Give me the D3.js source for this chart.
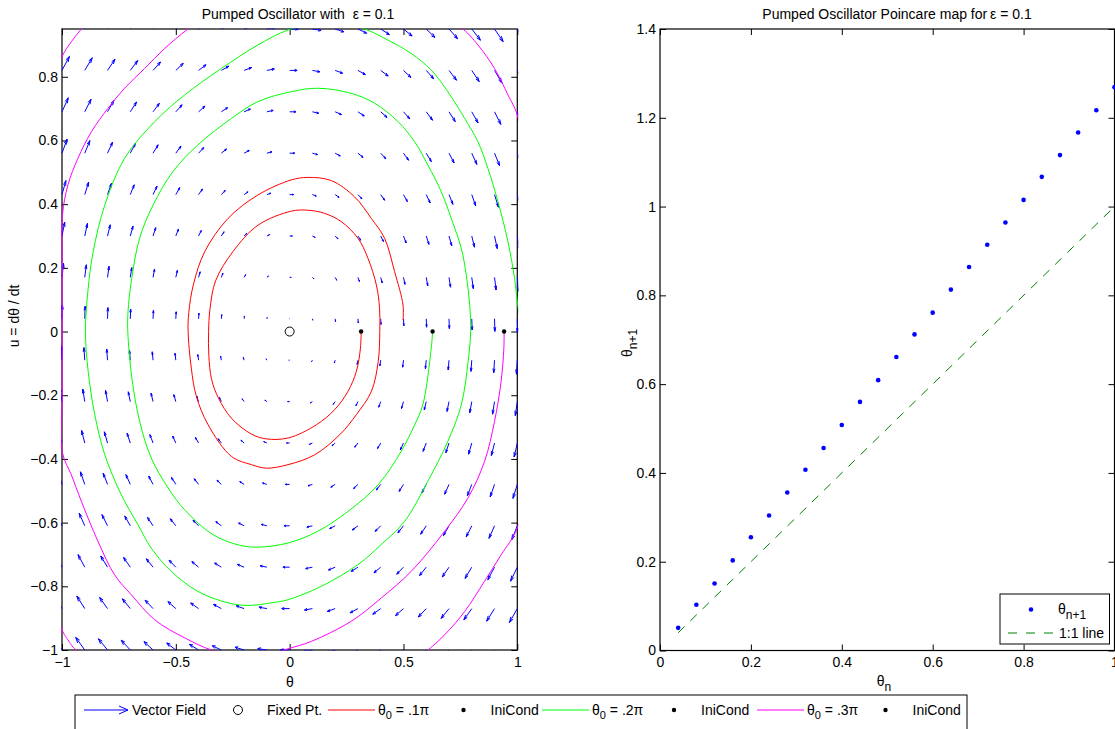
<!DOCTYPE html>
<html><head><meta charset="utf-8">
<script src="https://cdn.jsdelivr.net/npm/d3@7"></script>
<style>
html,body{margin:0;padding:0;background:#fff;}
svg{display:block;}
text{font-family:'Liberation Sans',Arial,Helvetica,sans-serif;white-space:pre;}
</style></head>
<body><svg id="c" width="1115" height="729"></svg>
<script>
// ---------------- DATA ----------------
const epsilon = "0.1";
// vector field grid
const quiverTheta = [-1,-0.9,-0.8,-0.7,-0.6,-0.5,-0.4,-0.3,-0.2,-0.1,0,0.1,0.2,0.3,0.4,0.5,0.6,0.7,0.8,0.9,1];
const quiverU = [-1,-0.87,-0.74,-0.61,-0.48,-0.35,-0.22,-0.09,0.04,0.17,0.30,0.43,0.56,0.69,0.82,0.95];
// horizontal component of each row's arrows, vertical component of each column's arrows
const arrowDTheta = [-1,-0.87,-0.74,-0.61,-0.48,-0.35,-0.22,-0.09,0.04,0.17,0.30,0.43,0.56,0.69,0.82,0.95];
const arrowDU = [1.1,0.99,0.88,0.77,0.66,0.55,0.44,0.33,0.22,0.11,0,-0.11,-0.22,-0.33,-0.44,-0.55,-0.66,-0.77,-0.88,-0.99,-1.1];
const arrowScale = 0.04;

const fixedPoint = [0, 0];
const iniConds = [[0.314,0],[0.628,0],[0.942,0]];

const redTraj = [[0.314,0],[0.311,-0.052],[0.293,-0.125],[0.256,-0.188],[0.198,-0.245],[0.117,-0.293],[-0.005,-0.334],[-0.103,-0.337],[-0.168,-0.322],[-0.256,-0.272],[-0.312,-0.210],[-0.343,-0.150],[-0.355,-0.075],[-0.356,0.0],[-0.350,0.070],[-0.325,0.160],[-0.249,0.251],[-0.139,0.334],[0.007,0.378],[0.08,0.381],[0.154,0.371],[0.227,0.345],[0.3,0.293],[0.344,0.23],[0.381,0.146],[0.395,0.073],[0.396,0.0],[0.389,-0.094],[0.359,-0.188],[0.293,-0.261],[0.22,-0.324],[0.11,-0.387],[-0.007,-0.418],[-0.103,-0.429],[-0.168,-0.418],[-0.256,-0.392],[-0.358,-0.293],[-0.41,-0.203],[-0.432,-0.115],[-0.446,0.0],[-0.443,0.060],[-0.422,0.150],[-0.373,0.251],[-0.271,0.355],[-0.139,0.429],[0.007,0.476],[0.08,0.484],[0.183,0.474],[0.285,0.423],[0.359,0.355],[0.417,0.293],[0.461,0.188],[0.498,0.083],[0.498,0.036]];

const greenTraj = [[0.628,0],[0.622,-0.052],[0.585,-0.23],[0.549,-0.293],[0.49,-0.376],[0.389,-0.481],[0.256,-0.565],[0.124,-0.627],[-0.007,-0.664],[-0.139,-0.677],[-0.22,-0.671],[-0.336,-0.638],[-0.461,-0.56],[-0.534,-0.491],[-0.608,-0.397],[-0.659,-0.282],[-0.693,-0.146],[-0.711,0.0],[-0.71,0.062],[-0.696,0.156],[-0.659,0.293],[-0.6,0.397],[-0.513,0.502],[-0.403,0.586],[-0.256,0.669],[-0.139,0.722],[0.007,0.753],[0.124,0.764],[0.27,0.748],[0.373,0.717],[0.476,0.659],[0.549,0.596],[0.607,0.523],[0.666,0.439],[0.71,0.355],[0.754,0.261],[0.776,0.177],[0.791,0.083],[0.795,0.0],[0.784,-0.094],[0.754,-0.23],[0.695,-0.345],[0.607,-0.47],[0.505,-0.596],[0.402,-0.669],[0.3,-0.732],[0.139,-0.8],[-0.007,-0.842],[-0.081,-0.852],[-0.183,-0.86],[-0.271,-0.852],[-0.403,-0.816],[-0.52,-0.753],[-0.608,-0.68],[-0.666,-0.607],[-0.74,-0.512],[-0.812,-0.387],[-0.856,-0.261],[-0.885,-0.125],[-0.897,0.0],[-0.885,0.136],[-0.863,0.251],[-0.812,0.397],[-0.725,0.544],[-0.593,0.659],[-0.461,0.743],[-0.3,0.826],[-0.139,0.9],[-0.007,0.947],[0.16,0.975],[0.329,0.95],[0.432,0.915],[0.534,0.873],[0.622,0.821],[0.695,0.753],[0.769,0.669],[0.827,0.596],[0.871,0.512],[0.915,0.408],[0.959,0.282],[0.988,0.167],[1.0,0.094],[1.02,0.0]];

const magentaTraj = [[0.942,0],[0.941,-0.052],[0.929,-0.156],[0.9,-0.282],[0.856,-0.408],[0.783,-0.523],[0.681,-0.627],[0.534,-0.753],[0.402,-0.837],[0.27,-0.91],[0.095,-0.973],[-0.007,-0.996],[-0.17,-1.03],[-0.344,-1.0],[-0.461,-0.962],[-0.593,-0.905],[-0.696,-0.826],[-0.769,-0.764],[-0.842,-0.659],[-0.915,-0.533],[-0.959,-0.45],[-0.998,-0.381],[-0.999,-0.2],[-0.999,0.0],[-0.999,0.2],[-0.998,0.366],[-0.974,0.46],[-0.93,0.544],[-0.871,0.627],[-0.798,0.701],[-0.725,0.764],[-0.637,0.826],[-0.549,0.889],[-0.447,0.95],[-0.2,1.08],[0.15,1.15],[0.5,1.07],[0.761,0.95],[0.827,0.9],[0.9,0.826],[0.959,0.743],[1.0,0.68],[1.1,0.3],[1.12,0.0],[1.1,-0.3],[1.0,-0.617],[0.929,-0.701],[0.856,-0.784],[0.769,-0.879],[0.681,-0.952],[0.607,-1.0],[0.3,-1.15],[-0.2,-1.2],[-0.6,-1.12],[-0.937,-1.0],[-0.974,-0.968],[-1.0,-0.936],[-1.2,-0.4],[-1.25,0.0],[-1.2,0.5],[-1.0,0.863],[-0.959,0.91],[-0.915,0.95],[-0.85,1.0]];

// Poincare map
const thetaN  = [0.04,0.08,0.12,0.16,0.20,0.24,0.28,0.32,0.36,0.40,0.44,0.48,0.52,0.56,0.60,0.64,0.68,0.72,0.76,0.80,0.84,0.88,0.92,0.96,1.00];
const thetaN1 = [0.051,0.103,0.151,0.203,0.255,0.304,0.356,0.407,0.456,0.508,0.560,0.609,0.661,0.712,0.761,0.813,0.864,0.914,0.964,1.015,1.067,1.116,1.167,1.217,1.269];
const oneToOne = [0.04, 1.0];

// ticks
const leftXTicks = [-1,-0.5,0,0.5,1];
const leftYTicks = [-1,-0.8,-0.6,-0.4,-0.2,0,0.2,0.4,0.6,0.8];
const rightXTicks = [0,0.2,0.4,0.6,0.8,1];
const rightYTicks = [0,0.2,0.4,0.6,0.8,1,1.2,1.4];

// ---------------- DRAW ----------------
const svg = d3.select("#c");
const FS = 14;
const fmt = d => String(d).replace("-", "\u2212");

const xL = d3.scaleLinear().domain([-1,1]).range([62,517.3]);
const yL = d3.scaleLinear().domain([-1,0.95]).range([650,29]);
const xR = d3.scaleLinear().domain([0,1]).range([660,1114.5]);
const yR = d3.scaleLinear().domain([0,1.4]).range([650.5,29]);

function frame(x, y, xt, yt, xlab) {
  const g = svg.append("g");
  const x0 = x.range()[0], x1 = x.range()[1], y0 = y.range()[0], y1 = y.range()[1];
  const styleAxis = sel => { sel.select(".domain").remove(); sel.selectAll("line").attr("stroke","#000"); sel.selectAll("text").attr("font-size",FS).attr("fill","#000"); };
  g.append("g").attr("transform",`translate(0,${y0})`).call(d3.axisBottom(x).tickValues(xt).tickSize(-6).tickPadding(7).tickFormat(xlab ? fmt : "")).call(styleAxis);
  g.append("g").attr("transform",`translate(0,${y1})`).call(d3.axisTop(x).tickValues(xt).tickSize(-6).tickFormat("")).call(styleAxis);
  g.append("g").attr("transform",`translate(${x0},0)`).call(d3.axisLeft(y).tickValues(yt).tickSize(-6).tickPadding(4).tickFormat(fmt)).call(styleAxis);
  g.append("g").attr("transform",`translate(${x1},0)`).call(d3.axisRight(y).tickValues(yt).tickSize(-6).tickFormat("")).call(styleAxis);
  g.append("rect").attr("x",x0).attr("y",y1).attr("width",x1-x0).attr("height",y0-y1)
    .attr("fill","none").attr("stroke","#000").attr("stroke-width",1.2);
}

// clip paths
const defs = svg.append("defs");
defs.append("clipPath").attr("id","clipL").append("rect")
  .attr("x",61).attr("y",28.5).attr("width",457.3).attr("height",622);
defs.append("clipPath").attr("id","clipR").append("rect")
  .attr("x",660).attr("y",29).attr("width",455).attr("height",622);

// ---------- left plot ----------
frame(xL, yL, leftXTicks, leftYTicks, true);
const gL = svg.append("g").attr("clip-path","url(#clipL)");

// quiver
const alpha = 0.33, beta = 0.33;
let qp = "";
quiverU.forEach((uv, i) => {
  quiverTheta.forEach((th, j) => {
    const du = arrowDTheta[i]*arrowScale, dv = arrowDU[j]*arrowScale;
    const tx = th+du, ty = uv+dv;
    const h1x = tx - alpha*(du + beta*dv), h1y = ty - alpha*(dv - beta*du);
    const h2x = tx - alpha*(du - beta*dv), h2y = ty - alpha*(dv + beta*du);
    qp += `M${xL(th)},${yL(uv)}L${xL(tx)},${yL(ty)}M${xL(h1x)},${yL(h1y)}L${xL(tx)},${yL(ty)}L${xL(h2x)},${yL(h2y)}`;
  });
});
gL.append("path").attr("d",qp).attr("fill","none").attr("stroke","#0000ff").attr("stroke-width",1);

const lineL = d3.line().x(d=>xL(d[0])).y(d=>yL(d[1])).curve(d3.curveCatmullRom.alpha(0.5));
[[redTraj,"#ff0000"],[greenTraj,"#00ff00"],[magentaTraj,"#ff00ff"]].forEach(([t,c]) => {
  gL.append("path").attr("d",lineL(t)).attr("fill","none").attr("stroke",c).attr("stroke-width",1);
});
gL.append("circle").attr("cx",xL(fixedPoint[0])).attr("cy",yL(fixedPoint[1])).attr("r",4.5)
  .attr("fill","none").attr("stroke","#000").attr("stroke-width",1);
gL.selectAll("circle.ic").data(iniConds).join("circle").attr("class","ic")
  .attr("cx",d=>xL(d[0])).attr("cy",d=>yL(d[1])).attr("r",2.2).attr("fill","#000");

svg.append("text").attr("x",298).attr("y",19).attr("text-anchor","middle").attr("font-size",FS)
  .text("Pumped Oscillator with  \u03b5 = " + epsilon);
svg.append("text").attr("x",290).attr("y",687).attr("text-anchor","middle").attr("font-size",FS).text("\u03b8");
svg.append("text").attr("transform","translate(19,316) rotate(-90)").attr("text-anchor","middle")
  .attr("font-size",FS).text("u = d\u03b8 / dt");

// ---------- right plot ----------
frame(xR, yR, rightXTicks, rightYTicks, true);
const gR = svg.append("g").attr("clip-path","url(#clipR)");
gR.append("line").attr("x1",xR(oneToOne[0])).attr("y1",yR(oneToOne[0])).attr("x2",xR(oneToOne[1])).attr("y2",yR(oneToOne[1]))
  .attr("stroke","#008000").attr("stroke-width",1).attr("stroke-dasharray","9,8");
gR.selectAll("circle").data(thetaN).join("circle")
  .attr("cx",(d)=>xR(d)).attr("cy",(d,i)=>yR(thetaN1[i])).attr("r",2.3).attr("fill","#0000ff");

svg.append("text").attr("x",897).attr("y",19).attr("text-anchor","middle").attr("font-size",FS)
  .text("Pumped Oscillator Poincare map for\u2009\u03b5 = " + epsilon);
const xlR = svg.append("text").attr("x",884).attr("y",686).attr("text-anchor","middle").attr("font-size",FS);
xlR.append("tspan").text("\u03b8");
xlR.append("tspan").attr("dy",5).attr("font-size",12).text("n");
const ylR = svg.append("text").attr("transform","translate(632,343) rotate(-90)").attr("text-anchor","middle").attr("font-size",FS);
ylR.append("tspan").text("\u03b8");
ylR.append("tspan").attr("dy",5).attr("font-size",12).text("n+1");

// right legend
const lg = svg.append("g");
lg.append("rect").attr("x",1000).attr("y",594).attr("width",109.5).attr("height",50)
  .attr("fill","#fff").attr("stroke","#000").attr("stroke-width",1);
lg.append("circle").attr("cx",1031).attr("cy",609.5).attr("r",2.3).attr("fill","#0000ff");
const lt = lg.append("text").attr("x",1058).attr("y",614).attr("font-size",FS);
lt.append("tspan").text("\u03b8");
lt.append("tspan").attr("dy",5).attr("font-size",12).text("n+1");
lg.append("line").attr("x1",1008).attr("y1",633).attr("x2",1053).attr("y2",633)
  .attr("stroke","#008000").attr("stroke-width",1).attr("stroke-dasharray","9,9");
lg.append("text").attr("x",1059).attr("y",638).attr("font-size",FS).text("1:1 line");

// ---------- bottom legend ----------
const bl = svg.append("g");
bl.append("rect").attr("x",75).attr("y",695).attr("width",892).attr("height",45)
  .attr("fill","#fff").attr("stroke","#000").attr("stroke-width",1);
const ly = 710;
bl.append("path").attr("d",`M84,${ly}L128,${ly}M119,${ly-4}L128,${ly}L119,${ly+4}`)
  .attr("fill","none").attr("stroke","#0000ff").attr("stroke-width",1);
bl.append("text").attr("x",132).attr("y",ly+5).attr("font-size",FS).text("Vector Field");
bl.append("circle").attr("cx",238).attr("cy",ly).attr("r",4.5).attr("fill","none").attr("stroke","#000");
bl.append("text").attr("x",267).attr("y",ly+5).attr("font-size",FS).text("Fixed Pt.");
const trajItems = [[328,"#ff0000",".1\u03c0",463.5],[542,"#00ff00",".2\u03c0",674],[757,"#ff00ff",".3\u03c0",885.5]];
trajItems.forEach(([x,c,lab,dx]) => {
  bl.append("line").attr("x1",x).attr("y1",ly).attr("x2",x+47).attr("y2",ly).attr("stroke",c).attr("stroke-width",1);
  const t = bl.append("text").attr("x",x+50).attr("y",ly+5).attr("font-size",FS);
  t.append("tspan").text("\u03b8");
  t.append("tspan").attr("dy",4).attr("font-size",11).text("0");
  t.append("tspan").attr("dy",-4).text(" = " + lab);
  bl.append("circle").attr("cx",dx).attr("cy",ly).attr("r",2.2).attr("fill","#000");
  bl.append("text").attr("x",dx+27).attr("y",ly+5).attr("font-size",FS).text("IniCond");
});
</script></body></html>
